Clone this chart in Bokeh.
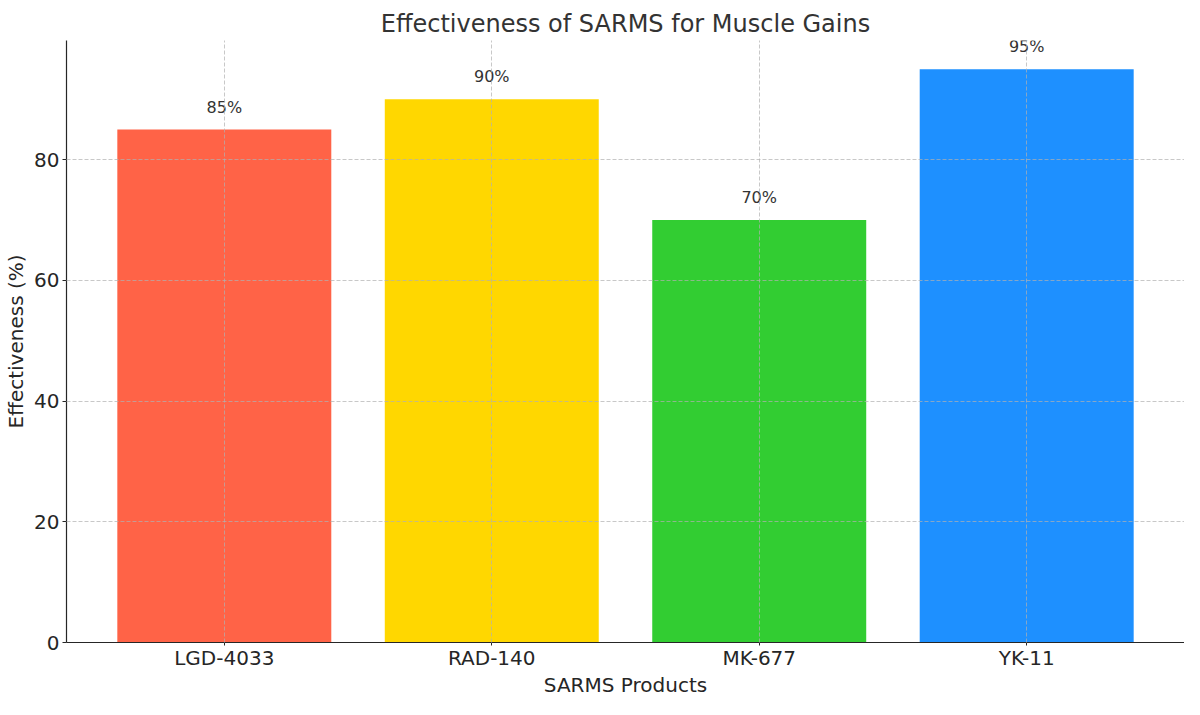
from bokeh.plotting import figure
from bokeh.models import ColumnDataSource, Range1d, FixedTicker, LabelSet
from bokeh.core.properties import value
from bokeh.embed import file_html
from bokeh.resources import INLINE

products = ["LGD-4033", "RAD-140", "MK-677", "YK-11"]
effectiveness = [85, 90, 70, 95]
colors = ["#FF6347", "#FFD700", "#32CD32", "#1E90FF"]
y_ticks = [0, 20, 40, 60, 80]

FONT = "DejaVu Sans"
TXT = "#262626"

idx = list(range(len(products)))
src = ColumnDataSource(dict(
    x=idx, top=effectiveness, color=colors,
    label=[f"{v}%" for v in effectiveness],
))

p = figure(width=1184, height=699, output_backend="svg", toolbar_location=None,
           x_range=Range1d(-0.59, 3.59), y_range=Range1d(0, 99.75),
           title="Effectiveness of SARMS for Muscle Gains",
           min_border_left=66, min_border_right=0, min_border_top=40, min_border_bottom=49)

p.vbar(x="x", top="top", width=0.8, color="color", source=src, line_color=None)

labels = LabelSet(x="x", y="top", text="label", source=src, text_align="center",
                  text_baseline="bottom", y_offset=13, text_font_size=value("16px"),
                  text_color=value("#333333"), text_font=value(FONT))
p.add_layout(labels)

p.title.align = "center"
p.title.text_font = FONT
p.title.text_font_size = "24px"
p.title.text_font_style = "normal"
p.title.text_color = "#333333"
p.title.standoff = 6

p.outline_line_color = None
p.background_fill_color = "white"

for g in (p.xgrid, p.ygrid):
    g.grid_line_color = "#b0b0b0"
    g.grid_line_alpha = 0.7
    g.grid_line_dash = "4 2"
    g.grid_line_width = 1
    g.level = "overlay"
p.xgrid.ticker = FixedTicker(ticks=idx)
p.ygrid.ticker = FixedTicker(ticks=y_ticks)

p.xaxis.ticker = FixedTicker(ticks=idx)
p.xaxis.major_label_overrides = {i: n for i, n in enumerate(products)}
p.yaxis.ticker = FixedTicker(ticks=y_ticks)
p.xaxis.axis_label = "SARMS Products"
p.yaxis.axis_label = "Effectiveness (%)"

for ax in (p.xaxis, p.yaxis):
    ax.axis_line_color = "#262626"
    ax.axis_line_width = 1.2
    ax.major_tick_line_color = "#262626"
    ax.major_tick_in = 0
    ax.major_tick_out = 4
    ax.minor_tick_line_color = None
    ax.major_label_text_font = FONT
    ax.major_label_text_font_size = "20px"
    ax.major_label_text_color = TXT
    ax.axis_label_text_font = FONT
    ax.axis_label_text_font_size = "20px"
    ax.axis_label_text_font_style = "normal"
    ax.axis_label_text_color = TXT
    ax.major_label_standoff = 3
    ax.axis_label_standoff = 3

p.xaxis.major_label_standoff = 0
p.xaxis.axis_label_standoff = 0
p.xaxis.major_tick_out = 3

open("out.html", "w").write(file_html(p, INLINE))
